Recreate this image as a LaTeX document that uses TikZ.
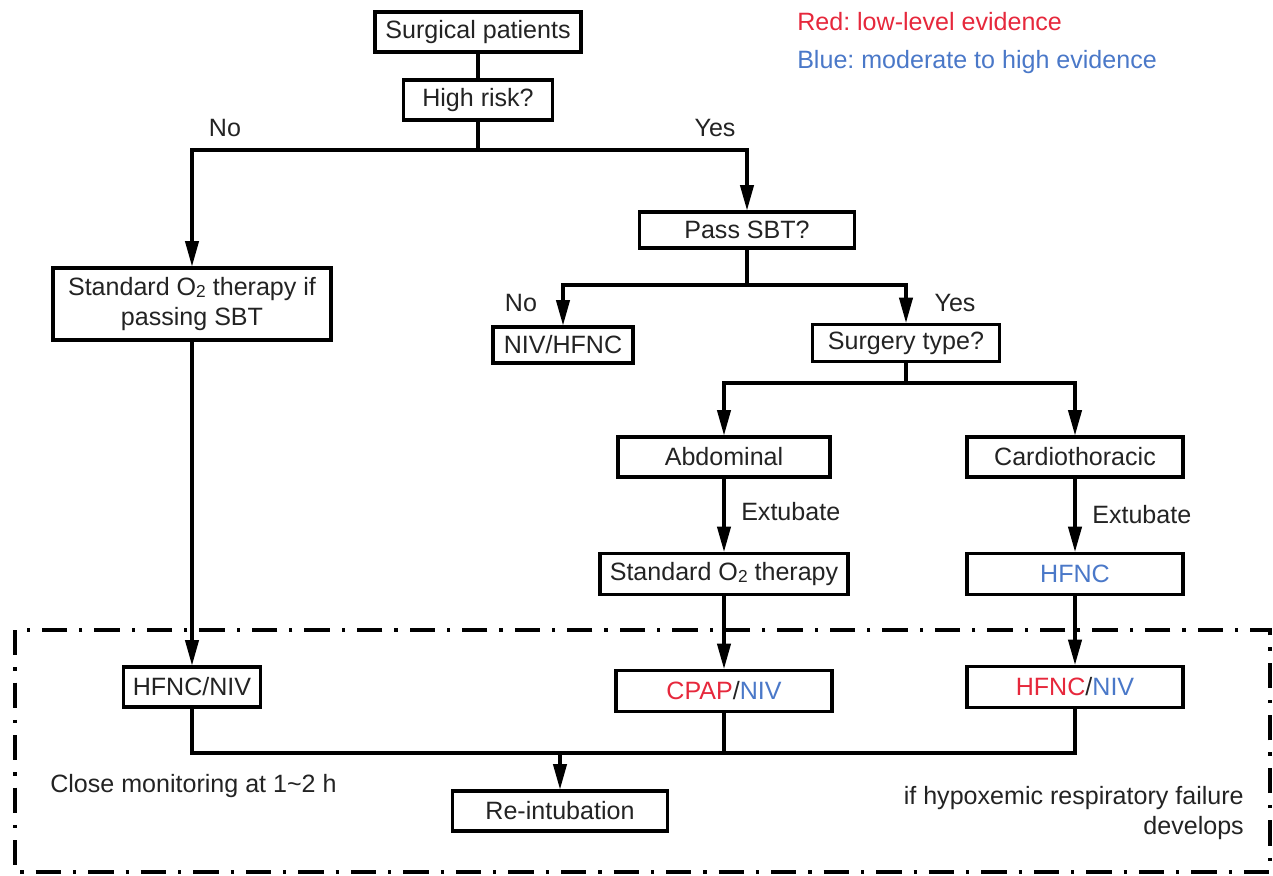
\documentclass[tikz,border=0pt]{standalone}
\usepackage{fontspec}
\setmainfont{Liberation Sans}
\usetikzlibrary{arrows.meta}
\definecolor{evred}{RGB}{230,40,60}
\definecolor{evblue}{RGB}{74,120,200}
\definecolor{ink}{RGB}{35,35,35}
\frenchspacing
\begin{document}
\begin{tikzpicture}[x=0.75pt,y=-0.75pt,
  every node/.style={font=\fontsize{18.8}{22}\selectfont, text=ink},
  box/.style={draw=black, line width=2.3pt, inner sep=0pt, align=center},
  ln/.style={draw=black, line width=2.3pt},
  arr/.style={ln, -{Triangle[length=19pt,width=10pt]}},
  lbl/.style={inner sep=0pt}
]
\useasboundingbox (0,0) rectangle (1273,875);
% dash-dot frame
\draw[line width=2.4pt, dash pattern=on 19pt off 9pt on 2.4pt off 9pt] (15,630) rectangle (1270,872);

% nodes
\node[box, minimum width=154.5pt, minimum height=30pt] (surg) at (478,32) {Surgical patients};
\node[box, minimum width=111.75pt, minimum height=30pt] (risk) at (478,100) {High risk?};
\node[box, minimum width=208.5pt, minimum height=54pt] (stdif) at (192,304) {Standard O\raisebox{-0.15ex}{\fontsize{13}{13}\selectfont 2} therapy if\\passing SBT};
\node[box, minimum width=161.25pt, minimum height=27pt] (pass) at (747,230) {Pass SBT?};
\node[box, minimum width=105pt, minimum height=27pt] (niv) at (563,345) {NIV/HFNC};
\node[box, minimum width=140.25pt, minimum height=27.75pt] (stype) at (906,343) {Surgery type?};
\node[box, minimum width=159pt, minimum height=30pt] (abd) at (724,457) {Abdominal};
\node[box, minimum width=162pt, minimum height=30pt] (card) at (1075,457) {Cardiothoracic};
\node[box, minimum width=186pt, minimum height=30.75pt] (std) at (724,574) {Standard O\raisebox{-0.15ex}{\fontsize{13}{13}\selectfont 2} therapy};
\node[box, minimum width=162pt, minimum height=30.75pt, text=evblue] (hfnc) at (1075,574) {HFNC};
\node[box, minimum width=102.75pt, minimum height=30pt] (hn1) at (192,687) {HFNC/NIV};
\node[box, minimum width=162pt, minimum height=30.75pt] (cpap) at (724,691) {\textcolor{evred}{CPAP}/\textcolor{evblue}{NIV}};
\node[box, minimum width=162pt, minimum height=30.75pt] (hn2) at (1075,687) {\textcolor{evred}{HFNC}/\textcolor{evblue}{NIV}};
\node[box, minimum width=161.25pt, minimum height=30pt] (reint) at (560,811) {Re-intubation};

% labels
\node[lbl] (no1) at (225,128) {No};
\node[lbl] (yes1) at (715,128) {Yes};
\node[lbl] (no2) at (521,303) {No};
\node[lbl] (yes2) at (955,303) {Yes};
\node[lbl, anchor=west] (ext1) at (741,512) {Extubate};
\node[lbl, anchor=west] (ext2) at (1092,515) {Extubate};
\node[lbl, anchor=west] (mon) at (50,786) {Close monitoring at 1\textasciitilde2 h};
\node[lbl, anchor=east, align=right] (hyp) at (1244,813) {if hypoxemic respiratory failure\\develops};
\node[lbl, anchor=west, text=evred] (leg1) at (797,22) {Red: low-level evidence};
\node[lbl, anchor=west, text=evblue] (leg2) at (797,62) {Blue: moderate to high evidence};

% connectors
\coordinate (j1) at (478,150);
\coordinate (j2) at (747,285);
\coordinate (j3) at (906,383);
\coordinate (j4) at (560,753);
\draw[ln] (surg) -- (risk);
\draw[ln] (risk) -- (j1);
\draw[arr] (j1) -| (stdif);
\draw[arr] (j1) -| (pass);
\draw[ln] (pass) -- (j2);
\draw[arr] (j2) -| (niv);
\draw[arr] (j2) -| (stype);
\draw[ln] (stype) -- (j3);
\draw[arr] (j3) -| (abd);
\draw[arr] (j3) -| (card);
\draw[arr] (abd) -- (std);
\draw[arr] (card) -- (hfnc);
\draw[arr] (stdif) -- (hn1);
\draw[arr] (std) -- (cpap);
\draw[arr] (hfnc) -- (hn2);
\draw[ln] (hn1.south) |- (j4) -| (hn2.south);
\draw[ln] (cpap.south) -- (cpap.south |- j4);
\draw[arr] (j4) -- (reint);
\end{tikzpicture}
\end{document}
